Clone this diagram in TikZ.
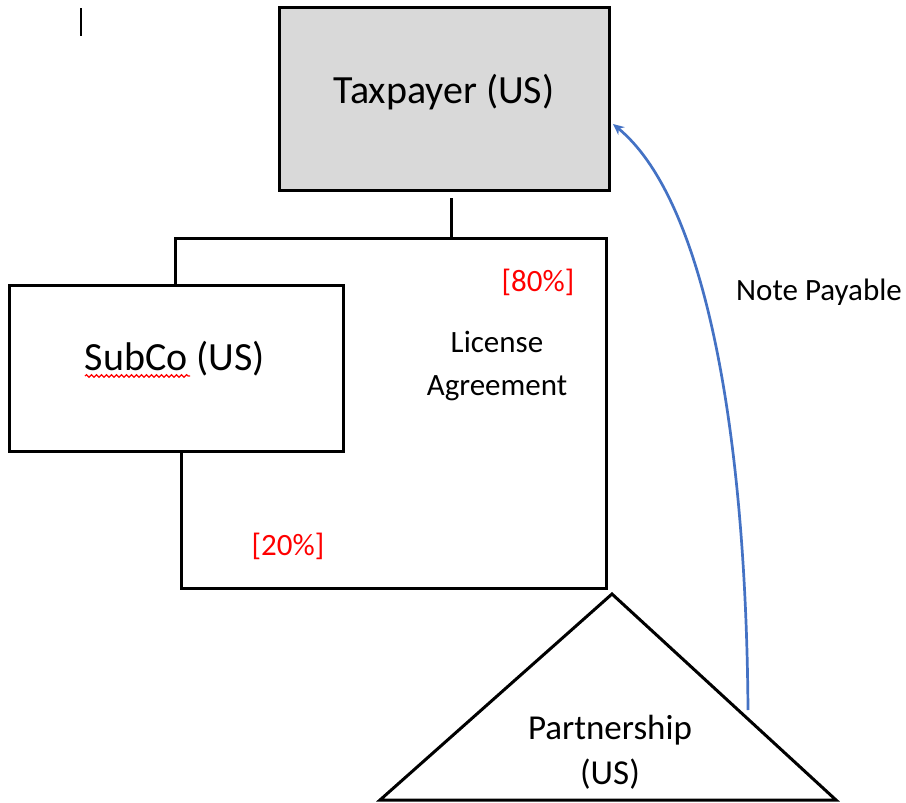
\documentclass[tikz,border=0pt]{standalone}
\usepackage{fontspec}
\setmainfont{Carlito}
\usetikzlibrary{arrows.meta,decorations.pathmorphing}
\definecolor{boxgray}{HTML}{D9D9D9}
\definecolor{arrowblue}{HTML}{4472C4}
\definecolor{pctred}{HTML}{FF0000}
\tikzset{
  entity/.style={draw=black, line width=3pt, rectangle, inner sep=0pt},
  link/.style={draw=black, line width=3pt},
  bigtext/.style={font=\fontsize{40}{48}\selectfont},
  smalltext/.style={font=\fontsize{31}{43}\selectfont, align=center},
  pct/.style={font=\fontsize{31}{38}\selectfont, text=pctred},
}
\begin{document}
\begin{tikzpicture}[x=1pt,y=-1pt]
\useasboundingbox (0,0) rectangle (906,803);
% cursor mark
\draw[line width=1.5pt] (81,8) -- (81,36);
% boxes
\node[entity, fill=boxgray, minimum width=330pt, minimum height=183pt] (taxpayer) at (444,98.5) {};
\node[bigtext] (taxlbl) at (444,92) {Taxpayer (US)};
\node[entity, fill=white, minimum width=334pt, minimum height=166pt] (subco) at (176,368) {};
\node[bigtext] (subcolbl) at (175,359) {SubCo (US)};
\draw[red, line width=1.2pt, decorate, decoration={snake, amplitude=1.3pt, segment length=5pt}] (85,376) -- (190,376);
% connectors
\coordinate (t1) at (451,198);
\coordinate (j) at (451,238);
\coordinate (jl) at (175,238);
\coordinate (jr) at (606,238);
\coordinate (br) at (606,588);
\coordinate (bl) at (181,588);
\draw[link] (t1) -- (j);
\draw[link, line join=miter] (jl |- subco.north) -- (jl) -- (jr) -- (br) -- (bl) -- (bl |- subco.south);
% triangle
\coordinate (apex) at (612,594);
\coordinate (tri-r) at (836,800);
\coordinate (tri-l) at (380,800);
\draw[link, line join=miter] (apex) -- (tri-r) -- (tri-l) -- cycle;
\node[align=center, font=\fontsize{35}{45}\selectfont] (partner) at (610,752) {Partnership\\(US)};
% labels
\node[pct] (p80) at (538,282) {[80\%]};
\node[smalltext] (license) at (497,366) {License\\Agreement};
\node[pct] (p20) at (288,546) {[20\%]};
\node[smalltext] (note) at (819,292) {Note Payable};
% note payable arrow
\coordinate (npstart) at (748,710);
\coordinate (npend) at (613,124);
\draw[arrowblue, line width=2.7pt, -{Stealth[length=11pt,width=10pt]}] (npstart) .. controls (746,430) and (705,200) .. (npend);
\end{tikzpicture}
\end{document}
